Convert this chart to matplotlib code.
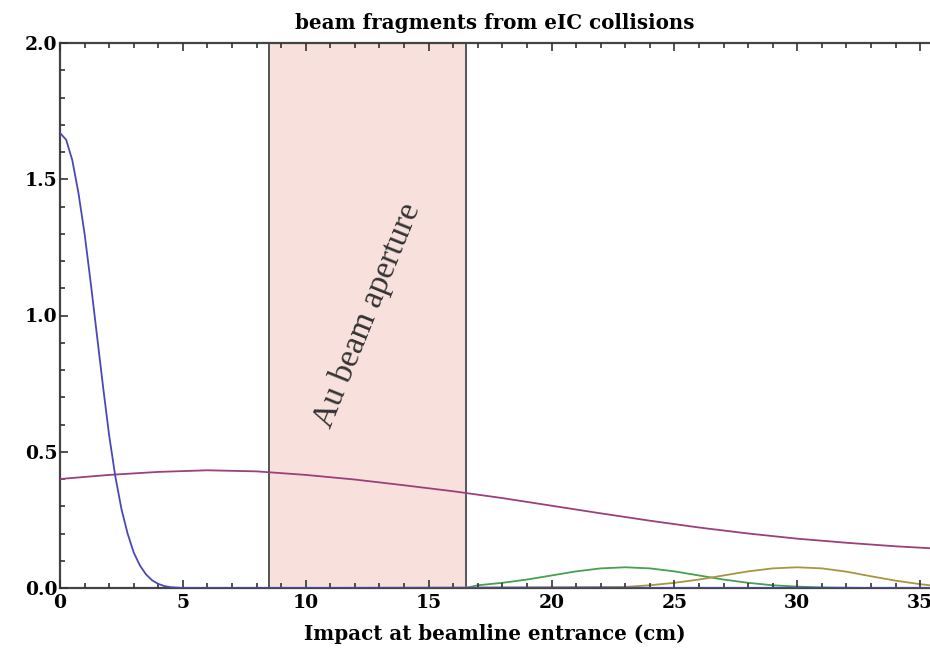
import matplotlib
matplotlib.use("Agg")
import matplotlib.pyplot as plt
from matplotlib.ticker import MultipleLocator

# ---- data ----
blue_x = [0, 0.25, 0.5, 0.75, 1.0, 1.25, 1.5, 1.75, 2.0, 2.25, 2.5, 2.75, 3.0, 3.25, 3.5,
          3.75, 4.0, 4.25, 4.5, 5.0, 10, 20, 30, 35.4]
blue_y = [1.67, 1.645, 1.57, 1.45, 1.30, 1.12, 0.93, 0.74, 0.56, 0.41, 0.29, 0.20, 0.13,
          0.083, 0.050, 0.028, 0.015, 0.007, 0.003, 0.0, 0.0, 0.0, 0.0, 0.0]

purple_x = [0, 2, 4, 6, 8, 10, 12, 14, 16, 18, 20, 22, 24, 26, 28, 30, 32, 34, 35.4]
purple_y = [0.400, 0.415, 0.426, 0.432, 0.428, 0.415, 0.398, 0.377, 0.355, 0.330, 0.302,
            0.274, 0.247, 0.222, 0.200, 0.181, 0.166, 0.153, 0.146]

green_x = [0, 8, 16.5, 17, 18, 19, 20, 21, 22, 23, 24, 25, 26, 27, 28, 29, 30, 31, 32, 33, 35.4]
green_y = [0, 0, 0.0, 0.010, 0.019, 0.031, 0.046, 0.061, 0.072, 0.076, 0.072, 0.061, 0.046,
           0.031, 0.019, 0.010, 0.005, 0.002, 0.001, 0.0, 0.0]

gold_x = [0, 10, 23, 24, 25, 26, 27, 28, 29, 30, 31, 32, 33, 34, 35, 35.4]
gold_y = [0, 0, 0.004, 0.010, 0.019, 0.031, 0.046, 0.061, 0.072, 0.076, 0.072, 0.060,
          0.043, 0.027, 0.014, 0.010]

aperture = (8.5, 16.5)
aperture_label = "Au beam aperture"
title = "beam fragments from eIC collisions"
xlabel = "Impact at beamline entrance (cm)"
xticks = [0, 5, 10, 15, 20, 25, 30, 35]
yticks = [0.0, 0.5, 1.0, 1.5, 2.0]

# ---- figure ----
fig = plt.figure(figsize=(9.3, 6.53), dpi=100)
ax = fig.add_axes([60 / 930, 65 / 653, 870 / 930, 545 / 653])

bold_serif = ["DejaVu Serif"]
serif = ["Liberation Serif", "DejaVu Serif"]

ax.axvspan(aperture[0], aperture[1], facecolor="#f8e1dc", edgecolor="none", zorder=0)
ax.axvline(aperture[0], color="#555555", lw=1.4, zorder=1)
ax.axvline(aperture[1], color="#555555", lw=1.4, zorder=1)

lw = 1.3
ax.plot(green_x, green_y, color="#45a04f", lw=lw, zorder=2)
ax.plot(gold_x, gold_y, color="#a8963f", lw=lw, zorder=2)
ax.plot(purple_x, purple_y, color="#9c3f7c", lw=lw, zorder=3)
ax.plot(blue_x, blue_y, color="#4a48b8", lw=lw, zorder=3)

ax.text(12.5, 1.0, aperture_label, rotation=68, ha="center", va="center",
        fontsize=24, family=serif, color="#333333")

ax.set_xlim(0, 35.4)
ax.set_ylim(0, 2.0)
ax.set_xticks(xticks)
ax.set_yticks(yticks)
ax.set_xticklabels([str(t) for t in xticks])
ax.set_yticklabels([f"{t:.1f}" for t in yticks])
ax.xaxis.set_minor_locator(MultipleLocator(1))
ax.yaxis.set_minor_locator(MultipleLocator(0.1))
ax.tick_params(which="both", direction="in", top=True, right=False, color="#333333", width=1.2)
ax.tick_params(which="major", length=6, labelsize=13.5, pad=4)
ax.tick_params(which="minor", length=3.5)
for lab in ax.get_xticklabels() + ax.get_yticklabels():
    lab.set_family(bold_serif)
    lab.set_fontweight("bold")
ax.tick_params(axis="y", pad=2)

ax.spines["right"].set_visible(False)
for s in ["left", "top", "bottom"]:
    ax.spines[s].set_color("#444444")
    ax.spines[s].set_linewidth(1.6)
ax.set_axisbelow(False)

ax.set_title(title, family=bold_serif, fontweight="bold", fontsize=14.3, pad=10)
ax.set_xlabel(xlabel, family=bold_serif, fontweight="bold", fontsize=14.3, labelpad=9)

fig.savefig("out.png", dpi=100)
